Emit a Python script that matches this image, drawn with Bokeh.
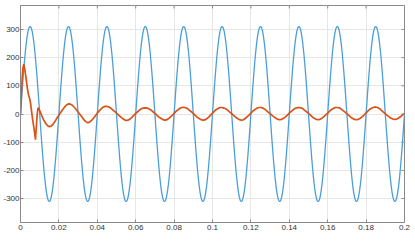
import math
import numpy as np
from bokeh.plotting import figure
from bokeh.models import FixedTicker, Range1d
from bokeh.embed import file_html
from bokeh.resources import INLINE

# ---- data ----
# voltage: one period sampled every 0.5 ms (value in V), 10 periods shown
voltage_period = [0, 48.7, 96.1, 141.2, 182.8, 219.9, 251.6, 277.1, 295.8, 307.2,
                  311, 307.2, 295.8, 277.1, 251.6, 219.9, 182.8, 141.2, 96.1, 48.7,
                  0, -48.7, -96.1, -141.2, -182.8, -219.9, -251.6, -277.1, -295.8, -307.2,
                  -311, -307.2, -295.8, -277.1, -251.6, -219.9, -182.8, -141.2, -96.1, -48.7]
voltage_step = 0.0005
voltage_periods = 10

# current: start-up transient (irregular sample times)
current_t_start = [0, 0.0004, 0.0008, 0.0012, 0.0017, 0.0022, 0.0028, 0.0034, 0.004, 0.0045,
                   0.0049, 0.0053, 0.0057, 0.0063, 0.0069, 0.0074, 0.0078, 0.0081, 0.0085, 0.0088,
                   0.0091, 0.0095, 0.010, 0.011, 0.012, 0.013, 0.014, 0.015, 0.016, 0.017,
                   0.018, 0.019]
current_v_start = [0, 60, 120, 160, 177, 160, 132, 100, 73, 60,
                   51, 35, 13, -18, -46, -70, -91, -60, -20, 5,
                   21, 20, 12, -5, -20, -32, -41, -45, -43, -36,
                   -26, -14]
# current: 0.020 .. 0.200 s every 1 ms
current_step_t0 = 0.020
current_step = 0.001
current_v_steady = [
    -4, 6, 16, 25, 32, 36, 35, 31, 24, 16, 7, -2, -11, -20, -27, -31, -29, -23, -15, -6,
    3, 11, 18, 24, 27, 27, 25, 21, 15, 9, 3, -3, -9, -15, -20, -23, -22, -18, -12, -5,
    2, 8, 14, 19, 21, 22, 21, 18, 14, 8, 2, -4, -10, -15, -19, -22, -21, -17, -11, -5,
    2, 9, 15, 20, 23, 24, 22, 19, 13, 8, 2, -5, -11, -16, -20, -22, -21, -17, -11, -4,
    3, 10, 16, 20, 23, 23, 21, 18, 13, 7, 1, -5, -11, -16, -20, -22, -21, -16, -10, -4,
    3, 10, 15, 20, 23, 23, 22, 18, 13, 7, 1, -5, -10, -15, -19, -20, -19, -15, -10, -4,
    3, 9, 15, 20, 22, 23, 22, 19, 13, 8, 2, -4, -10, -15, -19, -20, -19, -15, -9, -3,
    3, 10, 16, 20, 23, 23, 22, 18, 12, 7, 1, -5, -11, -16, -19, -20, -19, -15, -9, -3,
    4, 11, 17, 21, 24, 25, 23, 19, 13, 7, 1, -5, -10, -15, -18, -19, -18, -14, -9, -3,
    1]

x_ticks = [0, 0.02, 0.04, 0.06, 0.08, 0.1, 0.12, 0.14, 0.16, 0.18, 0.2]
x_tick_labels = ["0", "0.02", "0.04", "0.06", "0.08", "0.1", "0.12", "0.14", "0.16", "0.18", "0.2"]
y_ticks = [-300, -200, -100, 0, 100, 200, 300]
y_tick_labels = ["-300", "-200", "-100", "0", "100", "200", "300"]
x_lim = (0, 0.2)
y_lim = (-385, 385)

# ---- assemble series ----
v_vals = list(np.tile(voltage_period, voltage_periods)) + [voltage_period[0]]
v_t = [i * voltage_step for i in range(len(v_vals))]
i_t = list(current_t_start) + [current_step_t0 + k * current_step for k in range(len(current_v_steady))]
i_v = list(current_v_start) + list(current_v_steady)

FONT = "Liberation Sans"
AX = "#8a8a8a"
LBL = "#333333"

p = figure(width=415, height=244, x_range=Range1d(*x_lim), y_range=Range1d(*y_lim),
           output_backend="svg", toolbar_location=None,
           min_border_left=17, min_border_right=11, min_border_top=5, min_border_bottom=22)
p.background_fill_color = "white"
p.border_fill_color = "white"
p.outline_line_color = AX

p.line(v_t, v_vals, line_color="#4a9fda", line_width=1.3)
p.line(i_t, i_v, line_color="#D95319", line_width=1.7)

# inward ticks on the top and right edges of the box (clipped half of a dash)
p.scatter(x_ticks, [y_lim[1]] * len(x_ticks), marker="dash", size=6, angle=math.pi / 2,
          line_color=AX, line_width=1)
p.scatter([x_lim[1]] * len(y_ticks), y_ticks, marker="dash", size=6,
          line_color=AX, line_width=1)

p.xaxis.ticker = FixedTicker(ticks=x_ticks)
p.yaxis.ticker = FixedTicker(ticks=y_ticks)
p.xaxis.major_label_overrides = {t: l for t, l in zip(x_ticks, x_tick_labels)}
p.yaxis.major_label_overrides = {t: l for t, l in zip(y_ticks, y_tick_labels)}

for ax in (p.xaxis[0], p.yaxis[0]):
    ax.axis_line_color = AX
    ax.major_tick_line_color = AX
    ax.major_tick_in = 3
    ax.major_tick_out = 0
    ax.minor_tick_line_color = None
    ax.major_label_text_font = FONT
    ax.major_label_text_font_size = "8px"
    ax.major_label_text_color = LBL
    ax.major_label_standoff = 2
p.yaxis.major_label_standoff = 1

p.xgrid.grid_line_color = "#e6e6e6"
p.ygrid.grid_line_color = "#e6e6e6"

open("out.html", "w").write(file_html(p, INLINE))
